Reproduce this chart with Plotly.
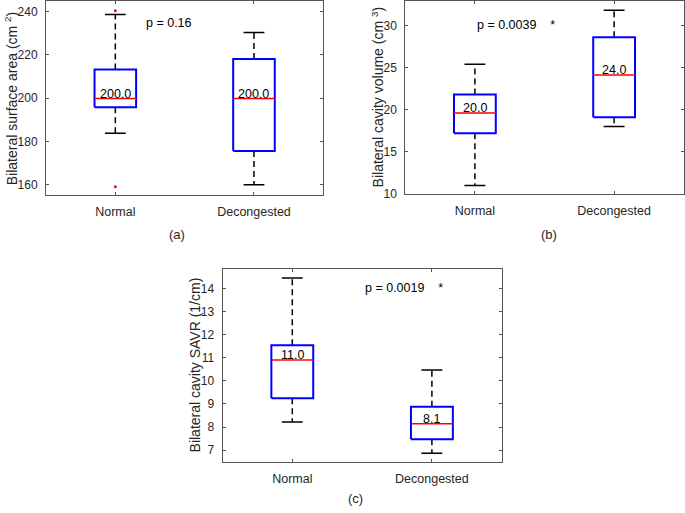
import plotly.graph_objects as go

# ---------------- data ----------------
groups = ["Normal", "Decongested"]

area_lower = [183.8, 160.0]
area_q1 = [195.8, 175.5]
area_median = [199.8, 199.8]
area_q3 = [213.2, 218.0]
area_upper = [238.6, 230.3]
area_outliers = [[240.3, 159.0], []]
area_labels = ["200.0", "200.0"]
area_p = "p = 0.16"

vol_lower = [11.0, 18.0]
vol_q1 = [17.2, 19.1]
vol_median = [19.6, 24.1]
vol_q3 = [21.8, 28.6]
vol_upper = [25.4, 31.8]
vol_outliers = [[], []]
vol_labels = ["20.0", "24.0"]
vol_p = "p = 0.0039\u00a0\u00a0\u00a0\u00a0*"

savr_lower = [8.22, 6.86]
savr_q1 = [9.25, 7.47]
savr_median = [10.9, 8.14]
savr_q3 = [11.54, 8.88]
savr_upper = [14.45, 10.47]
savr_outliers = [[], []]
savr_labels = ["11.0", "8.1"]
savr_p = "p = 0.0019\u00a0\u00a0\u00a0\u00a0*"

# ---------------- figure ----------------
W, H = 685, 513
FONT = "Liberation Sans, Arial, sans-serif"
TXT = "#262626"
AX = "#555555"


def px(xp):
    return xp / W


def py(yp):
    return 1 - yp / H


panels = [
    dict(xa="x", ya="y", lower=area_lower, q1=area_q1, med=area_median, q3=area_q3,
         upper=area_upper, out=area_outliers, labels=area_labels, p=area_p, p_x=1.205, p_y=234.5,
         xdom=[px(46), px(323.3)], ydom=[py(198), py(1.3)],
         yrange=[155.1, 244.7], dtick=20,
         ytitle="Bilateral surface area (cm <sup>2</sup>)", ytx=11, tag="(a)", tagx=177, tagy=238),
    dict(xa="x2", ya="y2", lower=vol_lower, q1=vol_q1, med=vol_median, q3=vol_q3,
         upper=vol_upper, out=vol_outliers, labels=vol_labels, p=vol_p, p_x=1.0, p_y=30.0,
         xdom=[px(405.3), px(683.7)], ydom=[py(196.5), py(1.0)],
         yrange=[10, 32.9], dtick=5,
         ytitle="Bilateral cavity volume (cm <sup>3</sup>)", ytx=378, tag="(b)", tagx=549, tagy=238),
    dict(xa="x3", ya="y3", lower=savr_lower, q1=savr_q1, med=savr_median, q3=savr_q3,
         upper=savr_upper, out=savr_outliers, labels=savr_labels, p=savr_p, p_x=1.504, p_y=14.0,
         xdom=[px(222.5), px(501.7)], ydom=[py(468.3), py(272.7)],
         yrange=[6.49, 14.84], dtick=1,
         ytitle="Bilateral cavity SAVR (1/cm)", ytx=195, tag="(c)", tagx=355, tagy=505),
]

BOX_HW = 0.15
CAP_HW = 0.075

fig = go.Figure()
annotations = []
layout_axes = {}

for k, pn in enumerate(panels):
    xa, ya = pn["xa"], pn["ya"]
    for i, g in enumerate(groups):
        pos = i + 1
        # whiskers (dashed)
        fig.add_trace(go.Scatter(
            x=[pos, pos, None, pos, pos],
            y=[pn["q3"][i], pn["upper"][i], None, pn["q1"][i], pn["lower"][i]],
            mode="lines", line=dict(color="black", width=1.5, dash="6px,4px"),
            xaxis=xa, yaxis=ya, showlegend=False, hoverinfo="skip"))
        # caps
        fig.add_trace(go.Scatter(
            x=[pos - CAP_HW, pos + CAP_HW, None, pos - CAP_HW, pos + CAP_HW],
            y=[pn["upper"][i], pn["upper"][i], None, pn["lower"][i], pn["lower"][i]],
            mode="lines", line=dict(color="black", width=1.5),
            xaxis=xa, yaxis=ya, showlegend=False, hoverinfo="skip"))
        # box
        fig.add_trace(go.Scatter(
            x=[pos - BOX_HW, pos + BOX_HW, pos + BOX_HW, pos - BOX_HW, pos - BOX_HW],
            y=[pn["q1"][i], pn["q1"][i], pn["q3"][i], pn["q3"][i], pn["q1"][i]],
            mode="lines", line=dict(color="#0000ff", width=2),
            xaxis=xa, yaxis=ya, showlegend=False, name=g))
        # median
        fig.add_trace(go.Scatter(
            x=[pos - BOX_HW, pos + BOX_HW], y=[pn["med"][i], pn["med"][i]],
            mode="lines", line=dict(color="#ff0000", width=1.5),
            xaxis=xa, yaxis=ya, showlegend=False, hoverinfo="skip"))
        # outliers
        if pn["out"][i]:
            fig.add_trace(go.Scatter(
                x=[pos] * len(pn["out"][i]), y=pn["out"][i], mode="markers",
                marker=dict(color="#ff0000", size=3),
                xaxis=xa, yaxis=ya, showlegend=False))
        # median label
        annotations.append(dict(
            x=pos, y=pn["med"][i], xref=xa, yref=ya, text=pn["labels"][i],
            showarrow=False, xanchor="center", yanchor="middle", yshift=5,
            font=dict(family=FONT, size=12.5, color="black")))
    # p-value
    annotations.append(dict(
        x=pn["p_x"], y=pn["p_y"], xref=xa, yref=ya, text=pn["p"], showarrow=False,
        xanchor="left", yanchor="middle", font=dict(family=FONT, size=12.5, color="black")))
    # y title
    annotations.append(dict(
        x=px(pn["ytx"]), y=(pn["ydom"][0] + pn["ydom"][1]) / 2, xref="paper", yref="paper",
        text=pn["ytitle"], textangle=-90, showarrow=False, xanchor="center", yanchor="middle",
        font=dict(family=FONT, size=14, color=TXT)))
    # panel tag
    annotations.append(dict(
        x=px(pn["tagx"]), y=py(pn["tagy"]), xref="paper", yref="paper", text=pn["tag"],
        showarrow=False, xanchor="center", yanchor="middle",
        font=dict(family=FONT, size=13, color=TXT)))

    xkey = "xaxis" if k == 0 else f"xaxis{k + 1}"
    ykey = "yaxis" if k == 0 else f"yaxis{k + 1}"
    layout_axes[xkey] = dict(
        domain=pn["xdom"], anchor=ya, range=[0.5, 2.5], tickmode="array",
        tickvals=[1, 2], ticktext=groups, ticks="inside", ticklen=3, tickcolor=AX,
        showline=True, linecolor=AX, linewidth=1, mirror="ticks", showgrid=False,
        zeroline=False, tickfont=dict(family=FONT, size=12.5, color=TXT), ticklabelstandoff=5)
    layout_axes[ykey] = dict(
        domain=pn["ydom"], anchor=xa, range=pn["yrange"], dtick=pn["dtick"], tick0=0,
        ticks="inside", ticklen=3, tickcolor=AX, showline=True, linecolor=AX, linewidth=1,
        mirror="ticks", showgrid=False, zeroline=False,
        tickfont=dict(family=FONT, size=12, color=TXT), ticklabelstandoff=5)

fig.update_layout(
    width=W, height=H, margin=dict(l=0, r=0, t=0, b=0),
    paper_bgcolor="white", plot_bgcolor="white", hovermode=False,
    annotations=annotations, showlegend=False, **layout_axes)

# remove the page's default 8px body margin so the figure fills the window exactly
fig.write_html("out.html", config={"displayModeBar": False, "staticPlot": True},
               post_script="document.body.style.margin='0px';")
